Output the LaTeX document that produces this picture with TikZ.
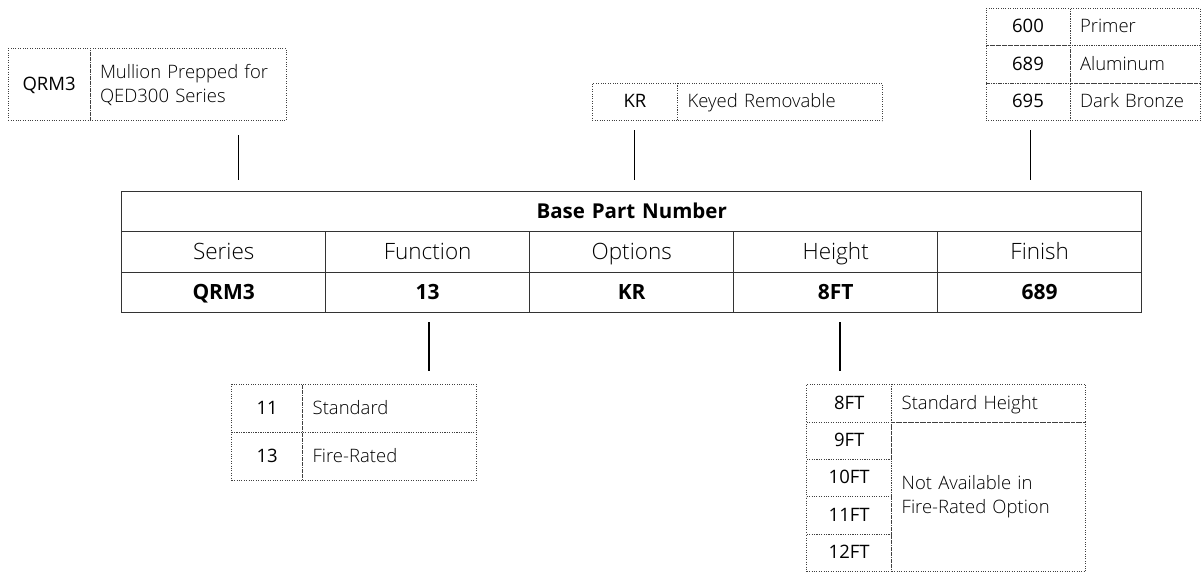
\documentclass[tikz,border=0pt]{standalone}
\usepackage{fontspec}
\setmainfont{Open Sans}
\newfontfamily\lightf{Open Sans Light}
\newcommand\mycell[7]{%
  \pgfmathsetmacro\cw{#4-#2}\pgfmathsetmacro\ch{#5-#3}%
  \pgfmathsetmacro\cx{(#2+#4)/2}\pgfmathsetmacro\cy{(#3+#5)/2}%
  \pgfmathsetmacro\tw{\cw-20}%
  \node[#6, minimum width=\cw pt, minimum height=\ch pt, text width=\tw pt] (#1) at (\cx,\cy) {#7};}
\tikzset{
  base/.style={inner xsep=10pt, inner ysep=0pt, outer sep=0pt, anchor=center},
  dcell/.style={base, draw=black!75, line width=0.8pt, dash pattern=on 0.8pt off 1.6pt},
  code/.style={dcell, align=center, font=\fontsize{18.5}{22}\selectfont, text height=13.2pt, text depth=1.5pt},
  descm/.style={dcell, align=left, font=\lightf\fontsize{18.5}{24}\selectfont},
  desc/.style={descm, text height=13.2pt, text depth=1.5pt},
  tcell/.style={base, draw=black!80, line width=1.3pt, align=center},
  thead/.style={tcell, font=\bfseries\fontsize{20.5}{24}\selectfont, text height=14.6pt, text depth=2pt},
  tlab/.style={tcell, font=\lightf\fontsize{22.5}{26}\selectfont, text height=16pt, text depth=2pt},
  tval/.style={tcell, font=\bfseries\fontsize{21}{24}\selectfont, text height=15pt, text depth=2pt},
  conn/.style={draw=black, line width=1.3pt}
}
\begin{document}
\begin{tikzpicture}[x=1pt,y=-1pt]
\useasboundingbox (0,0) rectangle (1204,571);
% main table
\mycell{hdr}{121.7}{191.7}{1141.7}{231.7}{thead}{Base Part Number}
\mycell{l1}{121.7}{231.7}{325.7}{272.7}{tlab}{Series}
\mycell{l2}{325.7}{231.7}{529.7}{272.7}{tlab}{Function}
\mycell{l3}{529.7}{231.7}{733.7}{272.7}{tlab}{Options}
\mycell{l4}{733.7}{231.7}{937.7}{272.7}{tlab}{Height}
\mycell{l5}{937.7}{231.7}{1141.7}{272.7}{tlab}{Finish}
\mycell{v1}{121.7}{272.7}{325.7}{312.7}{tval}{QRM3}
\mycell{v2}{325.7}{272.7}{529.7}{312.7}{tval}{13}
\mycell{v3}{529.7}{272.7}{733.7}{312.7}{tval}{KR}
\mycell{v4}{733.7}{272.7}{937.7}{312.7}{tval}{8FT}
\mycell{v5}{937.7}{272.7}{1141.7}{312.7}{tval}{689}
% series box
\mycell{sc}{8.3}{48.3}{90}{120.7}{code}{QRM3}
\mycell{sd}{90}{48.3}{286}{120.7}{descm}{Mullion Prepped for\\QED300 Series}
% options box
\mycell{oc}{592.3}{83.3}{677.7}{120.7}{code}{KR}
\mycell{od}{677.7}{83.3}{882.3}{120.7}{desc}{Keyed Removable}
% finish box
\mycell{fc1}{986}{8.3}{1070}{45.3}{code}{600}
\mycell{fd1}{1070}{8.3}{1200}{45.3}{desc}{Primer}
\mycell{fc2}{986}{45.3}{1070}{83.3}{code}{689}
\mycell{fd2}{1070}{45.3}{1200}{83.3}{desc}{Aluminum}
\mycell{fc3}{986}{83.3}{1070}{120.7}{code}{695}
\mycell{fd3}{1070}{83.3}{1200}{120.7}{desc}{Dark Bronze}
% function box
\mycell{gc1}{231.7}{384.3}{302.7}{432.3}{code}{11}
\mycell{gd1}{302.7}{384.3}{476}{432.3}{desc}{Standard}
\mycell{gc2}{231.7}{432.3}{302.7}{480.3}{code}{13}
\mycell{gd2}{302.7}{432.3}{476}{480.3}{desc}{Fire-Rated}
% height box
\mycell{hc1}{806.7}{384.3}{891.7}{422}{code}{8FT}
\mycell{hd1}{891.7}{384.3}{1085.7}{422}{desc}{Standard Height}
\mycell{hc2}{806.7}{422}{891.7}{459.3}{code}{9FT}
\mycell{hc3}{806.7}{459.3}{891.7}{496.7}{code}{10FT}
\mycell{hc4}{806.7}{496.7}{891.7}{534}{code}{11FT}
\mycell{hc5}{806.7}{534}{891.7}{571.5}{code}{12FT}
\mycell{hd2}{891.7}{422}{1085.7}{571.5}{descm}{Not Available in\\Fire-Rated Option}
% connectors
\coordinate (a1) at (238.3,135);  \coordinate (a2) at (238.3,180);
\coordinate (b1) at (634.3,130);  \coordinate (b2) at (634.3,180);
\coordinate (c1) at (1030.7,130); \coordinate (c2) at (1030.7,180);
\coordinate (d1) at (429,322);    \coordinate (d2) at (429,371);
\coordinate (e1) at (840,322);    \coordinate (e2) at (840,371);
\draw[conn] (a1) -- (a2);
\draw[conn] (b1) -- (b2);
\draw[conn] (c1) -- (c2);
\draw[conn] (d1) -- (d2);
\draw[conn] (e1) -- (e2);
\end{tikzpicture}
\end{document}
